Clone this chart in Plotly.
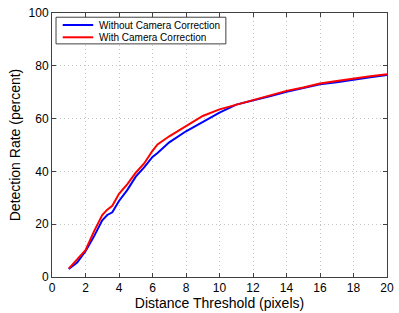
import plotly.graph_objects as go

x_vals = [1, 1.5, 2, 2.5, 3, 3.3, 3.6, 4, 4.5, 5, 5.5, 6, 6.3, 7, 8, 9, 10, 11, 12, 13, 14, 15, 16, 17, 18, 19, 20]
without_corr = [3, 5.5, 9.8, 15.3, 21.5, 23.5, 24.5, 28.8, 33, 38, 41.5, 45.5, 47, 51, 55.2, 58.8, 62.3, 65.3, 66.8, 68.5, 70.2, 71.5, 73, 73.8, 74.8, 75.7, 76.5]
with_corr = [3.2, 6.8, 10.2, 17.2, 23.5, 25.5, 27, 31.5, 35.2, 39.5, 43, 47.8, 50.2, 53.3, 57, 61, 63.5, 65.3, 67, 68.7, 70.5, 71.8, 73.3, 74.2, 75.2, 76, 76.8]

series_names = ["Without Camera Correction", "With Camera Correction"]
series_colors = ["#0000ff", "#ff0000"]

x_ticks = [0, 2, 4, 6, 8, 10, 12, 14, 16, 18, 20]
y_ticks = [0, 20, 40, 60, 80, 100]

font = "Liberation Sans, Arial, Helvetica, sans-serif"

fig = go.Figure()
for name, ys, col in zip(series_names, [without_corr, with_corr], series_colors):
    fig.add_trace(go.Scatter(x=x_vals, y=ys, mode="lines", name=name,
                             line=dict(color=col, width=2), showlegend=False))

axis_common = dict(
    showline=True, linecolor="#404040", linewidth=1, mirror="ticks",
    ticks="inside", ticklen=4, tickcolor="#404040", tickwidth=1,
    showgrid=True, gridcolor="#c4c4c4", griddash="1px,3px", gridwidth=1,
    zeroline=False, automargin=False,
    tickfont=dict(family=font, size=12, color="#000000"),
)

fig.update_xaxes(range=[0, 20], tickvals=x_ticks, ticktext=[str(t) for t in x_ticks],
                 title=dict(text="Distance Threshold (pixels)", font=dict(family=font, size=14, color="#000"), standoff=0),
                 **axis_common)
fig.update_yaxes(range=[0, 100], tickvals=y_ticks, ticktext=[str(t) for t in y_ticks],
                 title=dict(text="Detection Rate (percent)", font=dict(family=font, size=14, color="#000"), standoff=4),
                 **axis_common)

# Legend box drawn in paper coordinates (MATLAB-style compact legend)
leg_x0, leg_x1, leg_y0, leg_y1 = 0.012, 0.519, 0.883, 0.984
row_y = [0.9545, 0.908]
fig.add_shape(type="rect", xref="paper", yref="paper", x0=leg_x0, x1=leg_x1, y0=leg_y0, y1=leg_y1,
              line=dict(color="#404040", width=1), fillcolor="white", layer="above")
for name, col, ry in zip(series_names, series_colors, row_y):
    fig.add_shape(type="line", xref="paper", yref="paper", x0=0.032, x1=0.123, y0=ry, y1=ry,
                  line=dict(color=col, width=2), layer="above")
    fig.add_annotation(xref="paper", yref="paper", x=0.135, y=ry, text=name, showarrow=False,
                       xanchor="left", yanchor="middle",
                       font=dict(family=font, size=10, color="#000"))

fig.update_layout(
    width=399, height=313,
    margin=dict(l=52, r=12, t=13, b=36),
    paper_bgcolor="white", plot_bgcolor="white",
    font=dict(family=font, color="#000"),
    showlegend=False,
)

fig.write_html("out.html", config={"displayModeBar": False},
               post_script="document.body.style.margin='0';document.body.style.overflow='hidden';")
